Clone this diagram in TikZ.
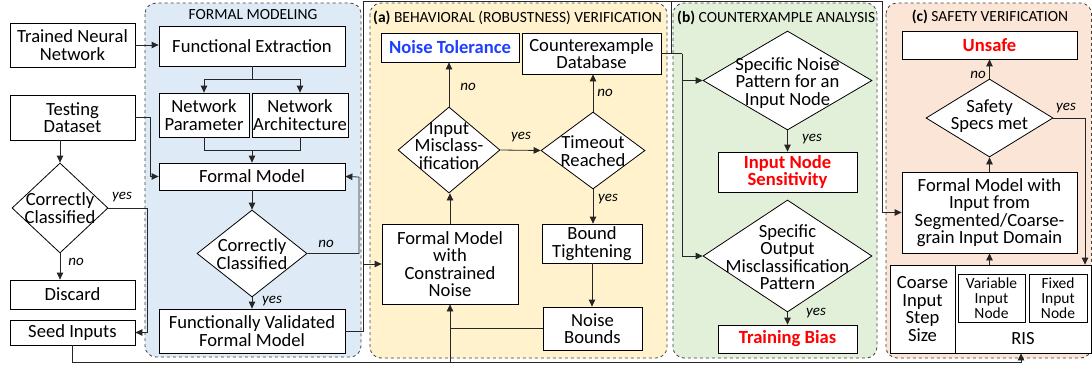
\documentclass[tikz,border=0pt]{standalone}
\usepackage{fontspec}
\setmainfont{Carlito}
\usetikzlibrary{arrows.meta,shapes.geometric,calc}
\definecolor{pblue}{HTML}{DEEBF7}
\definecolor{pyel}{HTML}{FFF2CC}
\definecolor{pgrn}{HTML}{E2F0D9}
\definecolor{porg}{HTML}{FBE5D6}
\definecolor{tred}{HTML}{FF0000}
\definecolor{tblue}{HTML}{1F3FFF}
\newcommand\fmain{\fontsize{18.6}{17.5}\selectfont}
\newcommand\fttl{\fontsize{15.5}{16}\selectfont}
\newcommand\fsml{\fontsize{15.5}{15}\selectfont}
\newcommand\flbl{\fontsize{15}{15}\selectfont\itshape}
\begin{document}
\begin{tikzpicture}[x=1pt,y=-1pt,
 box/.style={draw=black, fill=white, line width=0.8pt, inner sep=0pt, align=center, font=\fmain},
 dia/.style={draw=black, fill=white, diamond, line width=0.8pt, inner sep=0pt},
 dtxt/.style={inner sep=0pt, align=center, font=\fmain},
 panel/.style={draw=black!75, dashed, line width=0.8pt, rounded corners=11pt},
 ttl/.style={inner sep=0pt, font=\fttl},
 lbl/.style={inner sep=0pt, font=\flbl},
 arr/.style={draw=black!85, line width=0.8pt, -{Triangle[length=7pt,width=6.5pt]}},
 ln/.style={draw=black!85, line width=0.8pt},
 redt/.style={text=tred, font=\fmain\bfseries},
]
\useasboundingbox (0,0) rectangle (1092,364);
\fill[white] (0,0) rectangle (1092,364);

% panels
\path[panel, fill=pblue] (145,3) rectangle (361,357);
\path[panel, fill=pyel] (370,3) rectangle (667,358);
\path[panel, fill=pgrn] (673,3) rectangle (877,358);
\path[panel, fill=porg] (886,3) rectangle (1091.5,358);

\node[ttl] (t0) at (253,15) {FORMAL MODELING};
\node[ttl, anchor=west] (t1) at (373,18) {\textbf{(a)} BEHAVIORAL (ROBUSTNESS) VERIFICATION};
\node[ttl, anchor=west] (t2) at (677,18) {\textbf{(b)} COUNTERXAMPLE ANALYSIS};
\node[ttl] (t3) at (990,17) {\textbf{(c)} SAFETY VERIFICATION};

% left column
\node[box, minimum width=125pt, minimum height=44pt] (tnn) at (72.5,45) {Trained Neural\\Network};
\node[box, minimum width=125pt, minimum height=45pt] (td) at (72.5,117.5) {Testing\\Dataset};
\node[dia, minimum width=96pt, minimum height=90pt] (cc1) at (60,208) {};
\node[dtxt] (cc1t) at (60,208) {Correctly\\Classified};
\node[box, minimum width=125pt, minimum height=29pt] (disc) at (72.5,294.5) {Discard};
\node[box, minimum width=125pt, minimum height=25pt] (seed) at (72.5,332.5) {Seed Inputs};

% formal modeling
\node[box, minimum width=186pt, minimum height=40pt] (fe) at (252,46) {Functional Extraction};
\node[box, minimum width=90pt, minimum height=44pt] (np) at (204,115) {Network\\Parameter};
\node[box, minimum width=96pt, minimum height=44pt] (na) at (300,115) {Network\\Architecture};
\node[box, minimum width=186pt, minimum height=27pt] (fm) at (252,176.5) {Formal Model};
\node[dia, minimum width=110pt, minimum height=87pt] (cc2) at (252,253.5) {};
\node[dtxt] (cc2t) at (252,254) {Correctly\\Classified};
\node[box, minimum width=186pt, minimum height=44pt] (fvfm) at (252,331) {Functionally Validated\\Formal Model};

% (a)
\node[box, minimum width=138pt, minimum height=29pt, text=tblue, font=\fmain\bfseries] (nt) at (450,47.5) {Noise Tolerance};
\node[box, minimum width=139pt, minimum height=41pt] (db) at (591.5,53.5) {Counterexample\\Database};
\node[dia, minimum width=102pt, minimum height=86pt] (im) at (449,150) {};
\node[dtxt] (imt) at (449,146) {Input\\Misclass-\\ification};
\node[dia, minimum width=104pt, minimum height=77pt] (to) at (593,150.5) {};
\node[dtxt] (tot) at (593,151) {Timeout\\Reached};
\node[box, minimum width=100pt, minimum height=39pt] (bt) at (592,243.5) {Bound\\Tightening};
\node[box, minimum width=99pt, minimum height=43pt] (nb) at (592.5,328.5) {Noise\\Bounds};
\node[box, minimum width=136pt, minimum height=80pt] (fmcn) at (450,264) {Formal Model\\with\\Constrained\\Noise};

% (b)
\node[dia, minimum width=169pt, minimum height=99pt] (snp) at (787.5,80.5) {};
\node[dtxt] (snpt) at (787.5,83) {Specific Noise\\Pattern for an\\Input Node};
\node[box, minimum width=139pt, minimum height=40pt, redt] (ins) at (787.5,172) {Input Node\\Sensitivity};
\node[dia, minimum width=169pt, minimum height=112pt] (sop) at (787.5,256) {};
\node[dtxt] (sopt) at (787.5,257) {Specific\\Output\\Misclassification\\Pattern};
\node[box, minimum width=139pt, minimum height=28pt, redt] (tb) at (787.5,339) {Training Bias};

% (c)
\node[box, minimum width=175pt, minimum height=28pt, redt] (uns) at (989.5,45) {Unsafe};
\node[dia, minimum width=127pt, minimum height=78pt] (ssm) at (989.5,118) {};
\node[dtxt] (ssmt) at (989.5,116) {Safety\\Specs met};
\node[box, minimum width=175pt, minimum height=81pt] (fmi) at (989.5,212.5) {Formal Model with\\Input from\\Segmented/Coarse-\\grain Input Domain};
\node[box, minimum width=65pt, minimum height=88pt] (cis) at (922.5,309) {Coarse\\Input\\Step\\Size};
\node[box, minimum width=136pt, minimum height=88pt] (ris) at (1023,309) {};
\node[inner sep=0pt, font=\fmain] (rist) at (1023,339) {RIS};
\node[box, minimum width=67pt, minimum height=48pt, font=\fsml] (vin) at (991.5,298) {Variable\\Input\\Node};
\node[box, minimum width=58pt, minimum height=48pt, font=\fsml] (fin) at (1058,298) {Fixed\\Input\\Node};

% coordinates
\coordinate (jy) at (147,332.5);
\coordinate (mj) at (252,150);
\coordinate (lp) at (359,177);
\coordinate (vtop) at (363,1);
\coordinate (vbr) at (363,264);
\coordinate (htop) at (882,1);
\coordinate (dbj) at (682,53.5);
\coordinate (dbu) at (671,53.5);
\coordinate (dbt) at (671,1);
\coordinate (bl) at (72.5,362);
\coordinate (bbr) at (450,362);
\coordinate (br) at (1021,362);
\coordinate (nbj) at (450,328.5);
\coordinate (ycr) at (1085,118);

% left column connectors
\draw[arr] (tnn.east) -- (fe.west |- tnn.east);
\draw[arr] (td.south -| cc1.north) -- (cc1.north);
\draw[arr] (td.east) -- ++(14.5,0) |- (fm.west);
\draw[arr] (cc1.east) -| (jy) -- (seed.east);
\draw[arr] (cc1.south) -- (cc1.south |- disc.north);
\node[lbl] (y1) at (122,197) {yes};
\node[lbl] (n1) at (76,262) {no};

% formal modeling connectors
\draw[ln] (fe.south) -- ++(0,13) coordinate (fes);
\draw[arr] (fes) -| (np.north);
\draw[arr] (fes) -| (na.north);
\draw[ln] (np.south) -- ++(0,13) -| (na.south);
\draw[arr] (mj) -- (fm.north);
\draw[arr] (fm.south) -- (cc2.north);
\draw[arr] (cc2.east) -| (lp) -- (fm.east);
\draw[arr] (cc2.south) -- (fvfm.north);
\node[lbl] (n2) at (326,244) {no};
\node[lbl] (y2) at (272,301) {yes};

% fvfm out
\draw[arr] (fvfm.east) -| (vtop) -- (htop) |- (fmi.west);
\draw[arr] (vbr) -- (fmcn.west);

% (a) connectors
\draw[arr] (im.north) -- (im.north |- nt.south);
\draw[arr] (im.east) -- (to.west);
\draw[arr] (to.north) -- (to.north |- db.south);
\draw[arr] (to.south) -- (to.south |- bt.north);
\draw[arr] (bt.south) -- (bt.south |- nb.north);
\draw[ln] (nb.west) -- (nbj);
\draw[arr] (fmcn.north) -- (fmcn.north |- im.south);
\node[lbl] (n3) at (468,87) {no};
\node[lbl] (y3) at (521,137) {yes};
\node[lbl] (n4) at (605,93) {no};
\node[lbl] (y4) at (608,199) {yes};

% database to (b)
\draw[ln] (db.east) -- (dbj);
\draw[ln] (dbu) -- (dbt);
\draw[arr] (dbj) |- (snp.west);
\draw[arr] (dbj) |- (sop.west);
\draw[arr] (snp.south) -- (ins.north);
\draw[arr] (sop.south) -- (tb.north);
\node[lbl] (y5) at (812,139) {yes};
\node[lbl] (y6) at (816,313) {yes};

% (c) connectors
\draw[arr] (ssm.north) -- (uns.south);
\draw[arr] (fmi.north) -- (ssm.south);
\draw[arr] (ris.north -| fmi.south) -- (fmi.south);
\draw[arr] (ssm.east) -| (ris.north -| ycr);
\node[lbl] (n7) at (978,75) {no};
\node[lbl] (y7) at (1066,108) {yes};

% bottom line
\draw[arr] (seed.south) -- (bl) -- (br) -- (br |- ris.south);
\draw[arr] (bbr) -- (fmcn.south);
\end{tikzpicture}
\end{document}
